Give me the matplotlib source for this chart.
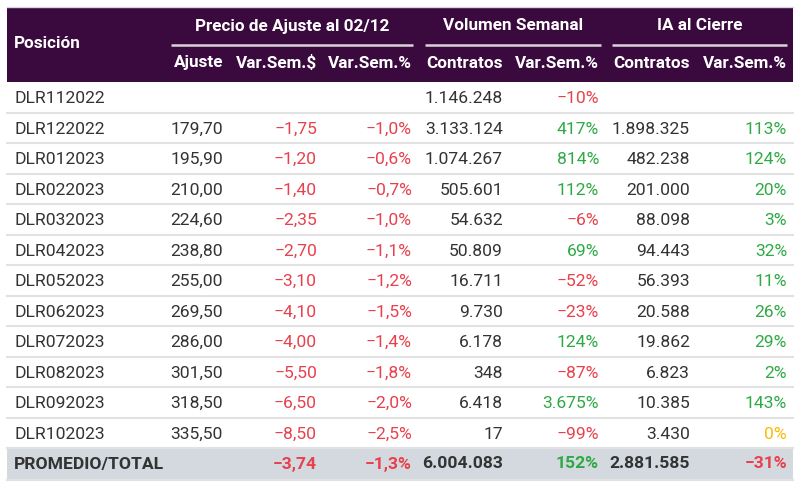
import matplotlib.pyplot as plt
from matplotlib.patches import Rectangle

plt.rcParams['font.family'] = ['Roboto', 'DejaVu Sans']

# datos de la tabla
posiciones = ['DLR112022', 'DLR122022', 'DLR012023', 'DLR022023', 'DLR032023', 'DLR042023',
              'DLR052023', 'DLR062023', 'DLR072023', 'DLR082023', 'DLR092023', 'DLR102023']
ajuste = [None, 179.70, 195.90, 210.00, 224.60, 238.80, 255.00, 269.50, 286.00, 301.50, 318.50, 335.50]
var_ajuste = [None, -1.75, -1.20, -1.40, -2.35, -2.70, -3.10, -4.10, -4.00, -5.50, -6.50, -8.50]
var_ajuste_pct = [None, -1.0, -0.6, -0.7, -1.0, -1.1, -1.2, -1.5, -1.4, -1.8, -2.0, -2.5]
vol_contratos = [1146248, 3133124, 1074267, 505601, 54632, 50809, 16711, 9730, 6178, 348, 6418, 17]
vol_var_pct = [-10, 417, 814, 112, -6, 69, -52, -23, 124, -87, 3675, -99]
ia_contratos = [None, 1898325, 482238, 201000, 88098, 94443, 56393, 20588, 19862, 6823, 10385, 3430]
ia_var_pct = [None, 113, 124, 20, 3, 32, 11, 26, 29, 2, 143, 0]

total_label = 'PROMEDIO/TOTAL'
total_valores = [None, -3.74, -1.3, 6004083, 152, 2881585, -31]

grupos = ['Precio de Ajuste al 02/12', 'Volumen Semanal', 'IA al Cierre']
subcolumnas = ['Ajuste', 'Var.Sem.$', 'Var.Sem.%', 'Contratos', 'Var.Sem.%', 'Contratos', 'Var.Sem.%']

MORADO = '#3a0a3f'
ROJO = '#e8404c'
VERDE = '#2eaa45'
AMARILLO = '#fbb909'
TEXTO = '#333333'
GRIS_TOTAL = '#d3d9de'
LINEA = '#e2e2e2'
FS = 12.6
FS_H = 12.3


def fmt(v, dec=0, pct=False):
    s = f"{abs(v):,.{dec}f}"
    s = s.replace(',', 'X').replace('.', ',').replace('X', '.')
    if v < 0:
        s = '\u2212' + s
    return s + ('%' if pct else '')


def color_var(v):
    if v > 0:
        return VERDE
    if v < 0:
        return ROJO
    return AMARILLO


# (decimales, porcentaje, es variación)
formatos = [(2, False, False), (2, False, True), (1, True, True),
            (0, False, False), (0, True, True), (0, False, False), (0, True, True)]
col_der = [223, 317, 412, 503, 599, 690, 787]
grupo_x = [(171, 413), (425, 601), (612, 787)]

fig = plt.figure(figsize=(8, 4.87), dpi=100)
ax = fig.add_axes([0, 0, 1, 1])
ax.set_xlim(0, 800)
ax.set_ylim(487, 0)
ax.axis('off')

x0, x1 = 7, 793

# encabezado
ax.add_patch(Rectangle((x0, 8), x1 - x0, 74, color=MORADO, lw=0))
ax.plot([x0, x1], [7, 7], color='#d8d8d8', lw=1)
ax.text(14, 43, 'Posición', color='white', fontsize=FS_H, fontweight='bold', va='center', ha='left')
for nombre, (a, b) in zip(grupos, grupo_x):
    ax.text((a + b) / 2, 26, nombre, color='white', fontsize=FS_H, fontweight='bold', va='center', ha='center')
    ax.plot([a, b], [45, 45], color='#d9d2d9', lw=1.8, solid_capstyle='butt')
for nombre, xr in zip(subcolumnas, col_der):
    ax.text(xr, 63, nombre, color='white', fontsize=FS_H, fontweight='bold', va='center', ha='right')

# filas
alto = 30.5
y_top = 82
for i, pos in enumerate(posiciones):
    yc = y_top + alto * (i + 0.5) + 1.5
    ax.text(14, yc, pos, color=TEXTO, fontsize=FS, va='center', ha='left')
    fila = [ajuste[i], var_ajuste[i], var_ajuste_pct[i], vol_contratos[i],
            vol_var_pct[i], ia_contratos[i], ia_var_pct[i]]
    for v, (dec, pct, es_var), xr in zip(fila, formatos, col_der):
        if v is None:
            continue
        c = color_var(v) if es_var else TEXTO
        ax.text(xr, yc, fmt(v, dec, pct), color=c, fontsize=FS, va='center', ha='right')
    ax.plot([x0, x1], [y_top + alto * (i + 1), y_top + alto * (i + 1)], color=LINEA, lw=1.5)

# fila total
yt = y_top + alto * len(posiciones)
ax.add_patch(Rectangle((x0, yt), x1 - x0, 31, color=GRIS_TOTAL, lw=0))
yc = yt + 16
ax.text(14, yc, total_label, color=TEXTO, fontsize=FS, fontweight='bold', va='center', ha='left')
for v, (dec, pct, es_var), xr in zip(total_valores, formatos, col_der):
    if v is None:
        continue
    c = color_var(v) if es_var else TEXTO
    ax.text(xr, yc, fmt(v, dec, pct), color=c, fontsize=FS, fontweight='bold', va='center', ha='right')
ax.plot([x0, x1], [yt + 32, yt + 32], color=LINEA, lw=1.5)

fig.savefig('out.png', dpi=100, facecolor='white')
